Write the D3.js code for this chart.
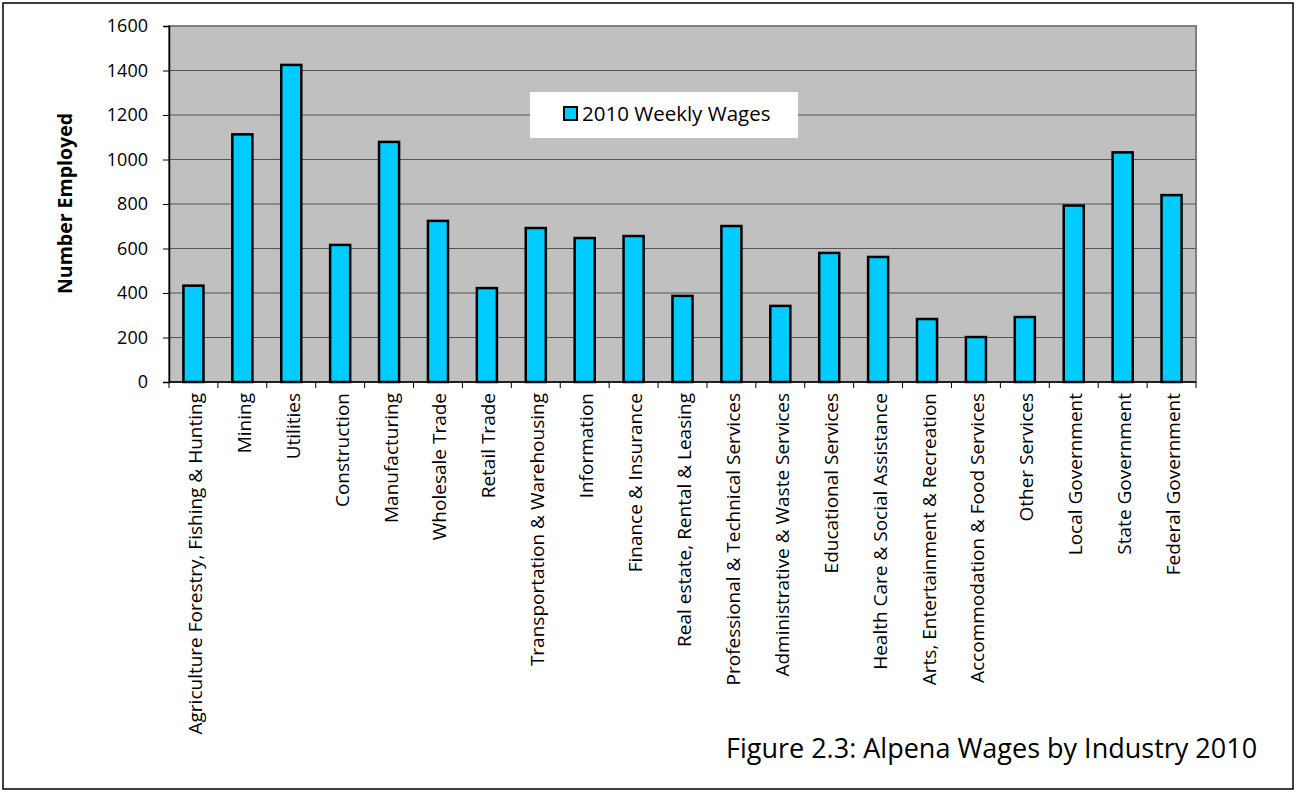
<!DOCTYPE html>
<html>
<head>
<meta charset="utf-8">
<script src="https://cdn.jsdelivr.net/npm/d3@7"></script>
<style>
  body { margin: 0; background: #fff; }
  svg { display: block; font-family: "Open Sans", Lato, sans-serif; }
</style>
</head>
<body>
<svg id="chart" width="1296" height="792"></svg>
<script>
// industries and their 2010 weekly wages
var industries = ["Agriculture Forestry, Fishing & Hunting", "Mining", "Utilities", "Construction",
  "Manufacturing", "Wholesale Trade", "Retail Trade", "Transportation & Warehousing", "Information",
  "Finance & Insurance", "Real estate, Rental & Leasing", "Professional & Technical Services",
  "Administrative & Waste Services", "Educational Services", "Health Care & Social Assistance",
  "Arts, Entertainment & Recreation", "Accommodation & Food Services", "Other Services",
  "Local Government", "State Government", "Federal Government"];
var wages = [433, 1113, 1425, 616, 1079, 724, 422, 692, 647, 656, 387, 701, 342, 580, 562, 283, 202, 292, 793, 1032, 840];
var yTicks = [0, 200, 400, 600, 800, 1000, 1200, 1400, 1600];
var seriesName = "2010 Weekly Wages";
var caption = "Figure 2.3: Alpena Wages by Industry 2010";

var svg = d3.select("#chart");
var plot = {left: 169, top: 26, right: 1196, bottom: 382};

// outer frame
svg.append("rect").attr("x", 3).attr("y", 3).attr("width", 1290).attr("height", 786)
  .attr("fill", "#fff").attr("stroke", "#000").attr("stroke-width", 1.5);

var x = d3.scaleBand().domain(industries).range([plot.left, plot.right]).paddingInner(0.59).paddingOuter(0.295);
var y = d3.scaleLinear().domain([0, 1600]).range([plot.bottom, plot.top]);

// plot background
svg.append("rect").attr("x", plot.left).attr("y", plot.top)
  .attr("width", plot.right - plot.left).attr("height", plot.bottom - plot.top)
  .attr("fill", "#c0c0c0").attr("stroke", "#808080").attr("stroke-width", 2);

// gridlines
svg.append("g").selectAll("line").data(yTicks.slice(1, -1)).enter().append("line")
  .attr("x1", plot.left).attr("x2", plot.right)
  .attr("y1", function(d){ return y(d); }).attr("y2", function(d){ return y(d); })
  .attr("stroke", "#555").attr("stroke-width", 1);

// bars
svg.append("g").selectAll("rect").data(wages).enter().append("rect")
  .attr("x", function(d, i){ return x(industries[i]); })
  .attr("y", function(d){ return y(d); })
  .attr("width", x.bandwidth())
  .attr("height", function(d){ return y(0) - y(d); })
  .attr("fill", "#00ccff").attr("stroke", "#000").attr("stroke-width", 2.5);

// y axis
var yAxis = svg.append("g").attr("transform", "translate(" + plot.left + ",0)")
  .call(d3.axisLeft(y).tickValues(yTicks).tickFormat(d3.format("d")).tickSize(6).tickPadding(15));
yAxis.select(".domain").attr("stroke", "#000").attr("stroke-width", 1.5);
yAxis.selectAll(".tick line").attr("stroke", "#000");
yAxis.selectAll("text").attr("font-size", 18).attr("fill", "#000").attr("font-family", "Open Sans");

// x axis: ticks at band boundaries
var step = x.step();
var boundaries = d3.range(industries.length + 1).map(function(i){ return plot.left + i * step; });
var xAxis = svg.append("g");
xAxis.append("line").attr("x1", plot.left).attr("x2", plot.right)
  .attr("y1", plot.bottom).attr("y2", plot.bottom).attr("stroke", "#000").attr("stroke-width", 1.5);
xAxis.selectAll(".bt").data(boundaries).enter().append("line")
  .attr("x1", function(d){ return d; }).attr("x2", function(d){ return d; })
  .attr("y1", plot.bottom).attr("y2", plot.bottom + 6).attr("stroke", "#000");
xAxis.selectAll("text").data(industries).enter().append("text")
  .attr("transform", function(d){ return "translate(" + (x(d) + x.bandwidth() / 2 + 8.5) + "," + (plot.bottom + 11) + ") rotate(-90)"; })
  .attr("text-anchor", "end").attr("font-size", 19).attr("fill", "#000")
  .text(function(d){ return d; });

// y title
svg.append("text").attr("transform", "translate(72,203.5) rotate(-90)")
  .attr("text-anchor", "middle").attr("font-weight", "bold").attr("font-size", 19.5)
  .text("Number Employed");

// legend
var lg = svg.append("g").attr("transform", "translate(530,92)");
lg.append("rect").attr("width", 268).attr("height", 46).attr("fill", "#fff");
lg.append("rect").attr("x", 34).attr("y", 15).attr("width", 13).attr("height", 13)
  .attr("fill", "#00ccff").attr("stroke", "#000").attr("stroke-width", 2);
lg.append("text").attr("x", 52).attr("y", 29).attr("font-size", 20.5).text(seriesName);

// caption
svg.append("text").attr("x", 726).attr("y", 758).attr("font-size", 27).text(caption);
</script>
</body>
</html>
